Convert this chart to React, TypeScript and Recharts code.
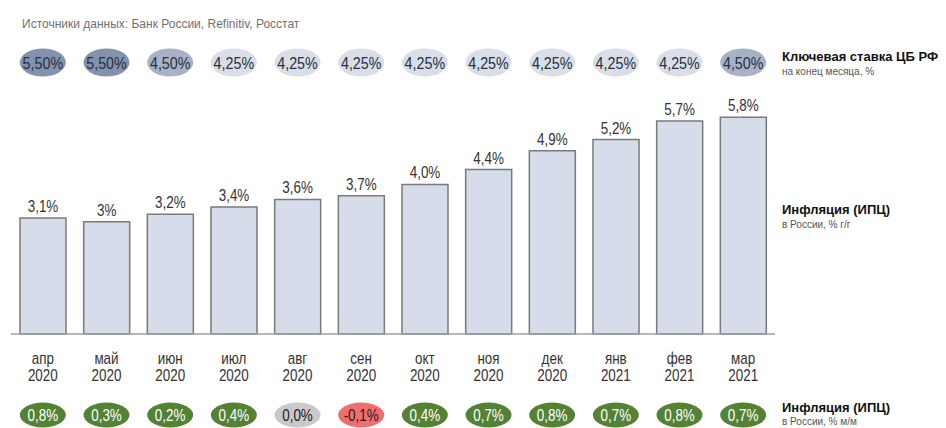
import React from 'react';
import { BarChart, Bar, XAxis, YAxis, LabelList } from 'recharts';

const months = ['апр', 'май', 'июн', 'июл', 'авг', 'сен', 'окт', 'ноя', 'дек', 'янв', 'фев', 'мар'];
const years = ['2020', '2020', '2020', '2020', '2020', '2020', '2020', '2020', '2020', '2021', '2021', '2021'];
const cpiYoY = [3.1, 3.0, 3.2, 3.4, 3.6, 3.7, 4.0, 4.4, 4.9, 5.2, 5.7, 5.8];
const cpiYoYLabels = ['3,1%', '3%', '3,2%', '3,4%', '3,6%', '3,7%', '4,0%', '4,4%', '4,9%', '5,2%', '5,7%', '5,8%'];
const keyRate = [5.5, 5.5, 4.5, 4.25, 4.25, 4.25, 4.25, 4.25, 4.25, 4.25, 4.25, 4.5];
const keyRateLabels = ['5,50%', '5,50%', '4,50%', '4,25%', '4,25%', '4,25%', '4,25%', '4,25%', '4,25%', '4,25%', '4,25%', '4,50%'];
const cpiMoM = [0.8, 0.3, 0.2, 0.4, 0.0, -0.1, 0.4, 0.7, 0.8, 0.7, 0.8, 0.7];
const cpiMoMLabels = ['0,8%', '0,3%', '0,2%', '0,4%', '0,0%', '-0,1%', '0,4%', '0,7%', '0,8%', '0,7%', '0,8%', '0,7%'];

const data = months.map((m, i) => ({ key: `${m} ${years[i]}`, idx: i, yoy: cpiYoY[i] }));

const SANS = '"Liberation Sans", Arial, sans-serif';

const rateColor = (v: number) => (v >= 5.5 ? '#8592ad' : v >= 4.5 ? '#a8b2c7' : '#d9dee8');
const momColor = (v: number) => (v > 0 ? '#548235' : v < 0 ? '#f26d6d' : '#c9c9c9');
const momText = (v: number) => (v > 0 ? '#ffffff' : '#222222');

const NText = ({ x, y, size = 16, fill = '#333', children }: any) => (
  <text
    transform={`translate(${x},${y}) scale(0.84,1)`}
    x={0}
    y={0}
    textAnchor="middle"
    fontFamily={SANS}
    fontSize={size}
    fill={fill}
  >
    {children}
  </text>
);

const BottomTick = (props: any) => {
  const { x, payload } = props;
  const i = payload.index;
  const v = cpiMoM[i];
  return (
    <g>
      <NText x={x} y={364}>{months[i]}</NText>
      <NText x={x} y={381}>{years[i]}</NText>
      <ellipse cx={x} cy={415} rx={23} ry={12.5} fill={momColor(v)} />
      <NText x={x} y={421} fill={momText(v)}>{cpiMoMLabels[i]}</NText>
    </g>
  );
};

const TopTick = (props: any) => {
  const { x, payload } = props;
  const i = payload.index;
  return (
    <g>
      <ellipse cx={x} cy={62.5} rx={23} ry={14} fill={rateColor(keyRate[i])} />
      <NText x={x} y={69} size={17} fill="#263040">{keyRateLabels[i]}</NText>
    </g>
  );
};

export default function App() {
  return (
    <div style={{ position: 'absolute', left: 0, top: 0, width: 946, height: 428, background: '#fff', overflow: 'hidden' }}>
      <div style={{ position: 'absolute', left: 22, top: 16, fontFamily: SANS, fontSize: 12, color: '#707070', lineHeight: '16px', whiteSpace: 'nowrap' }}>
        Источники данных: Банк России, Refinitiv, Росстат
      </div>
      <BarChart width={946} height={428} data={data} margin={{ top: 31, right: 171, bottom: 4, left: 11 }}>
        <XAxis
          dataKey="key"
          xAxisId="top"
          orientation="top"
          height={60}
          axisLine={false}
          tickLine={false}
          interval={0}
          tick={<TopTick />}
        />
        <XAxis
          dataKey="key"
          height={90}
          axisLine={{ stroke: '#a0a0a0', strokeWidth: 1.5 }}
          tickLine={false}
          interval={0}
          tick={<BottomTick />}
        />
        <YAxis hide domain={[0, 6.5]} />
        <Bar dataKey="yoy" barSize={46} fill="#d6dce9" stroke="#7a7a7a" strokeWidth={1.5} isAnimationActive={false}>
          <LabelList
            dataKey="idx"
            position="top"
            offset={6}
            content={(p: any) => (
              <NText x={p.x + p.width / 2} y={p.y - 6}>
                {cpiYoYLabels[p.value]}
              </NText>
            )}
          />
        </Bar>
      </BarChart>
      <div style={{ position: 'absolute', left: 782, top: 49, fontFamily: SANS, whiteSpace: 'nowrap' }}>
        <div style={{ fontSize: 13, fontWeight: 'bold', lineHeight: '16px', color: '#111' }}>Ключевая ставка ЦБ РФ</div>
        <div style={{ fontSize: 10, lineHeight: '14px', color: '#555' }}>на конец месяца, %</div>
      </div>
      <div style={{ position: 'absolute', left: 782, top: 202, fontFamily: SANS, whiteSpace: 'nowrap' }}>
        <div style={{ fontSize: 13, fontWeight: 'bold', lineHeight: '16px', color: '#111' }}>Инфляция (ИПЦ)</div>
        <div style={{ fontSize: 10, lineHeight: '14px', color: '#555' }}>в России, % г/г</div>
      </div>
      <div style={{ position: 'absolute', left: 782, top: 400, fontFamily: SANS, whiteSpace: 'nowrap' }}>
        <div style={{ fontSize: 13, fontWeight: 'bold', lineHeight: '16px', color: '#111' }}>Инфляция (ИПЦ)</div>
        <div style={{ fontSize: 10, lineHeight: '12px', color: '#555' }}>в России, % м/м</div>
      </div>
    </div>
  );
}
